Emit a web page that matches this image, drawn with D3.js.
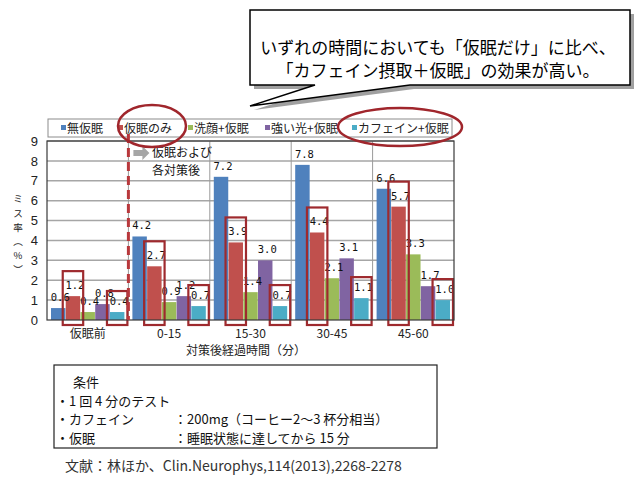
<!DOCTYPE html>
<html><head><meta charset="utf-8">
<script src="https://cdn.jsdelivr.net/npm/d3@7/dist/d3.min.js"></script>
<style>
html,body{margin:0;padding:0;background:#fff;}
svg{display:block;}
text{font-family:"Noto Sans CJK JP","Noto Sans",sans-serif;}
</style></head>
<body>
<svg id="c" width="640" height="480"></svg>
<script>
const categories = ["仮眠前", "0-15", "15-30", "30-45", "45-60"];
const seriesNames = ["無仮眠", "仮眠のみ", "洗顔+仮眠", "強い光+仮眠", "カフェイン+仮眠"];
const seriesColors = ["#4f81bd", "#c0504d", "#9bbb59", "#8064a2", "#4bacc6"];
const values = [
  [0.6, 4.2, 7.2, 7.8, 6.6],   // 無仮眠
  [1.2, 2.7, 3.9, 4.4, 5.7],   // 仮眠のみ
  [0.4, 0.9, 1.4, 2.1, 3.3],   // 洗顔+仮眠
  [0.8, 1.2, 3.0, 3.1, 1.7],   // 強い光+仮眠
  [0.4, 0.7, 0.7, 1.1, 1.0]    // カフェイン+仮眠
];
const highlighted = [1, 4];
const yTicks = [0,1,2,3,4,5,6,7,8,9];
const yTitleChars = ["ミ", "ス", "率", "︵", "%", "︶"];
const calloutLines = ["いずれの時間においても「仮眠だけ」に比べ、", "「カフェイン摂取＋仮眠」の効果が高い。"];
const noteLines = ["条件", "・1 回 4 分のテスト", "・カフェイン", "・仮眠"];
const noteValues = ["", "", "：200mg（コーヒー2〜3 杯分相当）", "：睡眠状態に達してから 15 分"];
const citation = "文献：林ほか、Clin.Neurophys,114(2013),2268-2278";

const svg = d3.select("#c");
const L = 47, R = 454, T = 141, B = 320;
const y = d3.scaleLinear().domain([0, 9]).range([B, T]);
const x0 = d3.scaleBand().domain(categories).range([L, R]);
const x1 = d3.scaleBand().domain(d3.range(seriesNames.length)).range([4, x0.bandwidth() - 4]).paddingInner(0.02);

// callout box with shadow and tail
const cb = {x: 250, y: 10, w: 380, h: 75};
const tail = [[315, cb.y + cb.h], [250, 106], [410, cb.y + cb.h]];
function calloutPath(dx, dy) {
  const p = d3.path();
  p.moveTo(cb.x + dx, cb.y + dy);
  p.lineTo(cb.x + cb.w + dx, cb.y + dy);
  p.lineTo(cb.x + cb.w + dx, cb.y + cb.h + dy);
  p.lineTo(tail[2][0] + dx, tail[2][1] + dy);
  p.lineTo(tail[1][0] + dx, tail[1][1] + dy);
  p.lineTo(tail[0][0] + dx, tail[0][1] + dy);
  p.lineTo(cb.x + dx, cb.y + cb.h + dy);
  p.closePath();
  return p.toString();
}
svg.append("path").attr("d", calloutPath(4, 4)).attr("fill", "#808080").attr("opacity", 0.75);
svg.append("path").attr("d", calloutPath(0, 0)).attr("fill", "#fff").attr("stroke", "#000").attr("stroke-width", 1.5);
svg.selectAll(".cl").data(calloutLines).enter().append("text")
  .attr("x", cb.x + cb.w / 2 - 2).attr("y", (d, i) => 54 + i * 23)
  .attr("text-anchor", "middle").attr("font-size", 17).attr("fill", "#000").text(d => d);

// legend
svg.append("rect").attr("x", 48).attr("y", 119).attr("width", 404).attr("height", 18)
  .attr("fill", "#fff").attr("stroke", "#8c8c8c").attr("stroke-width", 1);
const legendX = [61, 118, 188, 265, 352];
const lg = svg.selectAll(".lg").data(seriesNames).enter().append("g");
lg.append("rect").attr("x", (d, i) => legendX[i]).attr("y", 125).attr("width", 5).attr("height", 5)
  .attr("fill", (d, i) => seriesColors[i]);
lg.append("text").attr("x", (d, i) => legendX[i] + 6).attr("y", 133).attr("font-size", 12)
  .attr("fill", "#222").text(d => d);

// plot gridlines
svg.append("g").selectAll("line").data(yTicks.slice(1)).enter().append("line")
  .attr("x1", L).attr("x2", R).attr("y1", d => y(d)).attr("y2", d => y(d))
  .attr("stroke", "#a6a6a6").attr("stroke-width", 1.5);
svg.append("g").selectAll("line").data(categories.slice(1)).enter().append("line")
  .attr("x1", d => x0(d)).attr("x2", d => x0(d)).attr("y1", T).attr("y2", B)
  .attr("stroke", "#9a9a9a").attr("stroke-width", 1);

// bars
const groups = svg.append("g").selectAll("g").data(categories).enter().append("g")
  .attr("transform", d => `translate(${x0(d)},0)`);
groups.selectAll("rect").data((c, ci) => values.map((s, si) => ({si, v: s[ci]}))).enter().append("rect")
  .attr("x", d => x1(d.si)).attr("width", x1.bandwidth())
  .attr("y", d => y(d.v)).attr("height", d => B - y(d.v))
  .attr("fill", d => seriesColors[d.si]);

// frame
svg.append("rect").attr("x", L).attr("y", T).attr("width", R - L).attr("height", B - T)
  .attr("fill", "none").attr("stroke", "#3a3a3a").attr("stroke-width", 1.2);

// data labels
groups.selectAll(".lbl").data((c, ci) => values.map((s, si) => ({si, v: s[ci]}))).enter().append("text")
  .attr("x", d => x1(d.si) + x1.bandwidth() / 2 + 2).attr("y", d => y(d.v) - 7)
  .attr("text-anchor", "middle").attr("font-size", 10.5)
  .style("font-family", "'DejaVu Sans Mono','Liberation Mono',monospace")
  .attr("fill", "#111").text(d => d.v.toFixed(1));

// highlight rectangles
groups.selectAll(".hl").data((c, ci) => highlighted.map(si => ({si, v: values[si][ci]}))).enter().append("rect")
  .attr("x", d => x1(d.si) - 3).attr("width", x1.bandwidth() + 6)
  .attr("y", d => y(d.v) - (d.si === 1 ? 25 : 21)).attr("height", d => B + 5 - (y(d.v) - (d.si === 1 ? 25 : 21)))
  .attr("fill", "none").attr("stroke", "#9e2a2e").attr("stroke-width", 2.2);

// y axis
const yAxis = svg.append("g").attr("transform", `translate(${L},0)`)
  .call(d3.axisLeft(y).tickValues(yTicks).tickSize(0).tickPadding(9).tickFormat(d3.format("d")));
yAxis.select(".domain").remove();
yAxis.selectAll("text").attr("font-size", 13).style("font-family", "'Liberation Sans',Arial,sans-serif").attr("fill", "#222");

// x axis
const xAxis = svg.append("g").attr("transform", `translate(0,${B})`)
  .call(d3.axisBottom(x0).tickSize(0).tickPadding(9));
xAxis.select(".domain").remove();
xAxis.selectAll("text").attr("font-size", 12).attr("fill", "#222");

svg.append("text").attr("x", 246).attr("y", 355).attr("text-anchor", "middle").attr("font-size", 12)
  .attr("fill", "#222").text("対策後経過時間（分）");

// y axis title (vertical, stacked characters)
svg.append("g").selectAll("text").data(yTitleChars).enter().append("text")
  .attr("x", 18).attr("y", (d, i) => 199 + i * 14.2).attr("dy", "0.35em")
  .attr("text-anchor", "middle").attr("font-size", 9.6).attr("fill", "#222").text(d => d);

// dashed red divider
svg.append("line").attr("x1", x0(categories[1])).attr("x2", x0(categories[1])).attr("y1", 134).attr("y2", B)
  .attr("stroke", "#b8383c").attr("stroke-width", 3).attr("stroke-dasharray", "9,5");

// gray arrow and note
const ax = x0(categories[1]) + 5;
svg.append("path").attr("d", `M${ax},150 L${ax + 9},150 L${ax + 9},146 L${ax + 16},153 L${ax + 9},160 L${ax + 9},156 L${ax},156 Z`)
  .attr("fill", "#a6a6a6");
svg.append("text").attr("x", 152).attr("y", 157).attr("font-size", 12).attr("fill", "#111").text("仮眠および");
svg.append("text").attr("x", 152).attr("y", 175).attr("font-size", 12).attr("fill", "#111").text("各対策後");

// ellipses around legend entries
svg.append("ellipse").attr("cx", 152).attr("cy", 126).attr("rx", 34).attr("ry", 21)
  .attr("fill", "none").attr("stroke", "#a0262c").attr("stroke-width", 2.5);
svg.append("ellipse").attr("cx", 400).attr("cy", 127).attr("rx", 62).attr("ry", 19)
  .attr("fill", "none").attr("stroke", "#a0262c").attr("stroke-width", 2.5);

// conditions box
svg.append("rect").attr("x", 54).attr("y", 365).attr("width", 383).attr("height", 83)
  .attr("fill", "#fff").attr("stroke", "#222").attr("stroke-width", 1.2);
svg.selectAll(".nt").data(noteLines).enter().append("text")
  .attr("x", (d, i) => i === 0 ? 73 : 56).attr("y", (d, i) => 387 + i * 18.5)
  .attr("font-size", 13).attr("fill", "#111").text(d => d);
svg.selectAll(".nv").data(noteValues).enter().append("text")
  .attr("x", 174).attr("y", (d, i) => 387 + i * 18.5)
  .attr("font-size", 13).attr("fill", "#111").text(d => d);

svg.append("text").attr("x", 65).attr("y", 471).attr("font-size", 14).attr("fill", "#333").text(citation);
</script>
</body></html>
